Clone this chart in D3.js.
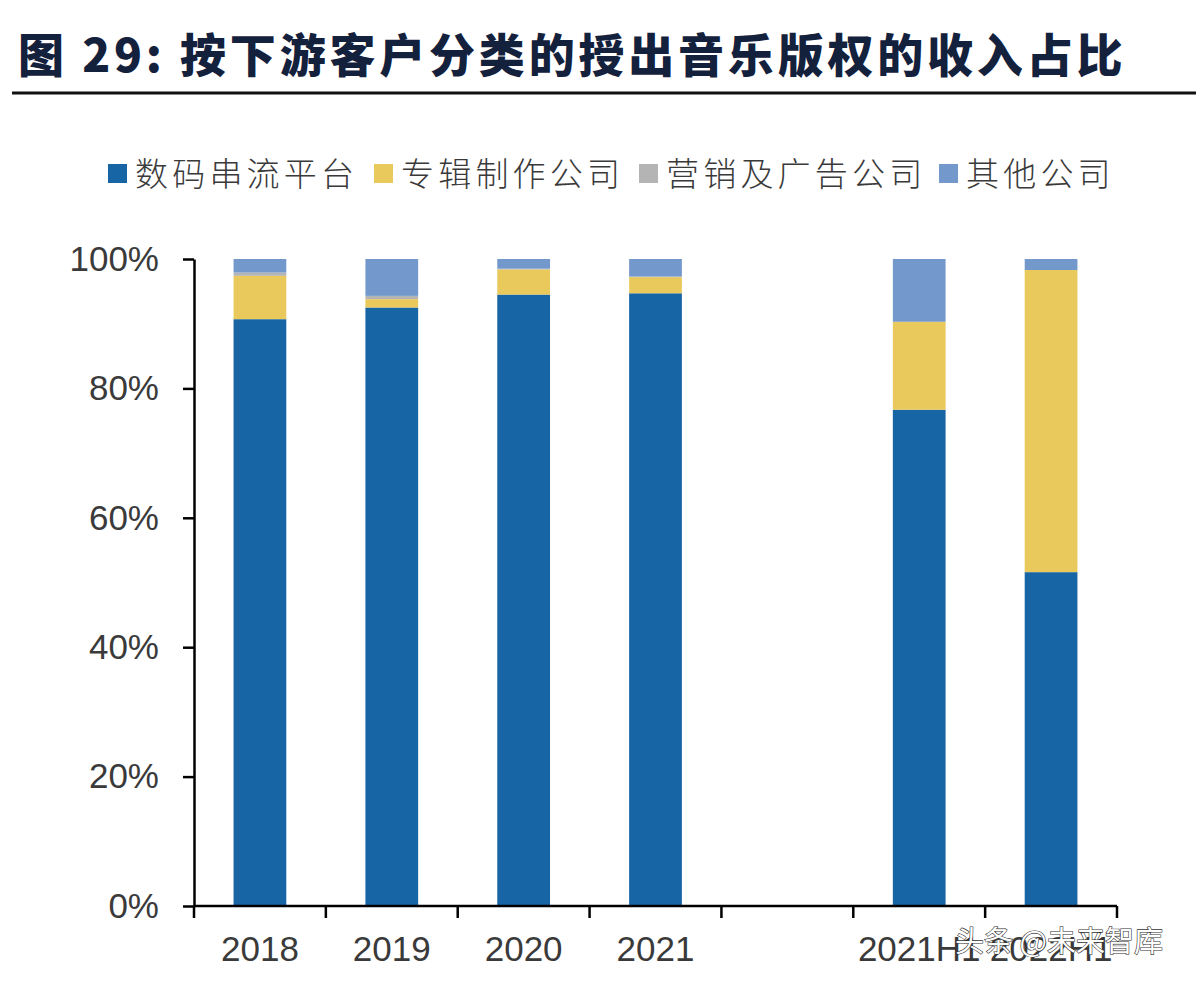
<!DOCTYPE html>
<html>
<head>
<meta charset="utf-8">
<script src="https://cdn.jsdelivr.net/npm/d3@7"></script>
<style>
  body { margin: 0; background: #fff; }
  svg { display: block; }
</style>
</head>
<body>
<svg id="chart" width="1202" height="984"></svg>
<script>
// categories and shares (%) per customer type
var categories = ['2018', '2019', '2020', '2021', '', '2021H1', '2022H1'];
var seriesNames = ['数码串流平台', '专辑制作公司', '营销及广告公司', '其他公司'];
var streaming = [90.7, 92.5, 94.5, 94.7, 0, 76.7, 51.6];
var album = [6.7, 1.3, 3.9, 2.5, 0, 13.6, 46.7];
var marketing = [0.5, 0.5, 0.1, 0.1, 0, 0, 0];
var others = [2.1, 5.7, 1.5, 2.7, 0, 9.7, 1.7];
var yTicks = [0, 20, 40, 60, 80, 100];

var colors = ['#1865a6', '#e9c85c', '#b4b4b4', '#7399cc'];

var svg = d3.select('#chart');

// title + rule under it
svg.append('text')
  .attr('x', 18).attr('y', 72)
  .attr('font-family', '"Noto Sans CJK SC", sans-serif')
  .attr('font-weight', 900)
  .attr('font-size', 46)
  .attr('letter-spacing', 3.8)
  .attr('fill', '#14213d')
  .text('图  29:  按下游客户分类的授出音乐版权的收入占比');

svg.append('line')
  .attr('x1', 12).attr('x2', 1196)
  .attr('y1', 93).attr('y2', 93)
  .attr('stroke', '#111').attr('stroke-width', 3);

// legend
var legendX = [108, 374, 639, 939];
var legend = svg.append('g');
seriesNames.forEach(function(name, i) {
  legend.append('rect')
    .attr('x', legendX[i]).attr('y', 164)
    .attr('width', 19).attr('height', 19)
    .attr('fill', colors[i]);
  legend.append('text')
    .attr('x', legendX[i] + 27).attr('y', 186)
    .attr('font-family', '"Noto Sans CJK SC", sans-serif')
    .attr('font-weight', 300)
    .attr('font-size', 33)
    .attr('letter-spacing', 4.2)
    .attr('fill', '#3a3a3a')
    .text(name);
});

var margin = {top: 259, left: 194},
  width = 1117 - 194,
  height = 906 - 259;

var g = svg.append('g')
  .attr('transform', 'translate(' + margin.left + ',' + margin.top + ')');

var x = d3.scaleBand()
  .domain(d3.range(categories.length))
  .range([0, width])
  .padding(0);

var y = d3.scaleLinear()
  .domain([0, 100])
  .range([height, 0]);

// stack the four series
var rows = categories.map(function(c, i) {
  return {idx: i, s0: streaming[i], s1: album[i], s2: marketing[i], s3: others[i]};
});
var stack = d3.stack().keys(['s0', 's1', 's2', 's3']);
var layers = stack(rows);

var barW = x.bandwidth() * 0.4;

g.selectAll('.layer')
  .data(layers)
  .enter()
  .append('g')
  .attr('fill', function(d, i) { return colors[i]; })
  .selectAll('rect')
  .data(function(d) { return d.filter(function(p) { return p[1] > p[0]; }); })
  .enter()
  .append('rect')
  .attr('x', function(d) { return x(d.data.idx) + (x.bandwidth() - barW) / 2; })
  .attr('y', function(d) { return y(d[1]); })
  .attr('height', function(d) { return y(d[0]) - y(d[1]); })
  .attr('width', barW);

// y axis
var yAxis = d3.axisLeft(y)
  .tickValues(yTicks)
  .tickFormat(function(d) { return d + '%'; })
  .tickSizeInner(11)
  .tickSizeOuter(0)
  .tickPadding(24);

var ya = g.append('g').call(yAxis);
ya.select('.domain').attr('stroke', '#000').attr('stroke-width', 2.5);
ya.selectAll('.tick line').attr('stroke', '#000').attr('stroke-width', 2.5);
ya.selectAll('.tick text')
  .attr('font-family', '"Liberation Sans", Arial, sans-serif')
  .attr('font-size', 35)
  .attr('fill', '#3a3a3a');

// x axis with ticks between categories
var xa = g.append('g').attr('transform', 'translate(0,' + height + ')');
xa.append('line')
  .attr('x1', 0).attr('x2', width)
  .attr('stroke', '#000').attr('stroke-width', 2.5);
xa.selectAll('.xt')
  .data(d3.range(categories.length + 1))
  .enter()
  .append('line')
  .attr('x1', function(i) { return i * x.step(); })
  .attr('x2', function(i) { return i * x.step(); })
  .attr('y1', 0).attr('y2', 12)
  .attr('stroke', '#000').attr('stroke-width', 2.5);
xa.selectAll('.xl')
  .data(categories)
  .enter()
  .append('text')
  .attr('x', function(d, i) { return x(i) + x.bandwidth() / 2; })
  .attr('y', 55)
  .attr('text-anchor', 'middle')
  .attr('font-family', '"Liberation Sans", Arial, sans-serif')
  .attr('font-size', 35)
  .attr('fill', '#3a3a3a')
  .text(function(d) { return d; });

// watermark
svg.append('text')
  .attr('x', 955).attr('y', 952)
  .attr('font-family', '"Noto Sans CJK SC", sans-serif')
  .attr('font-size', 29)
  .attr('fill', '#fff')
  .attr('stroke', '#333')
  .attr('stroke-width', 1.2)
  .attr('paint-order', 'stroke')
  .text('头条 @未来智库');
</script>
</body>
</html>
